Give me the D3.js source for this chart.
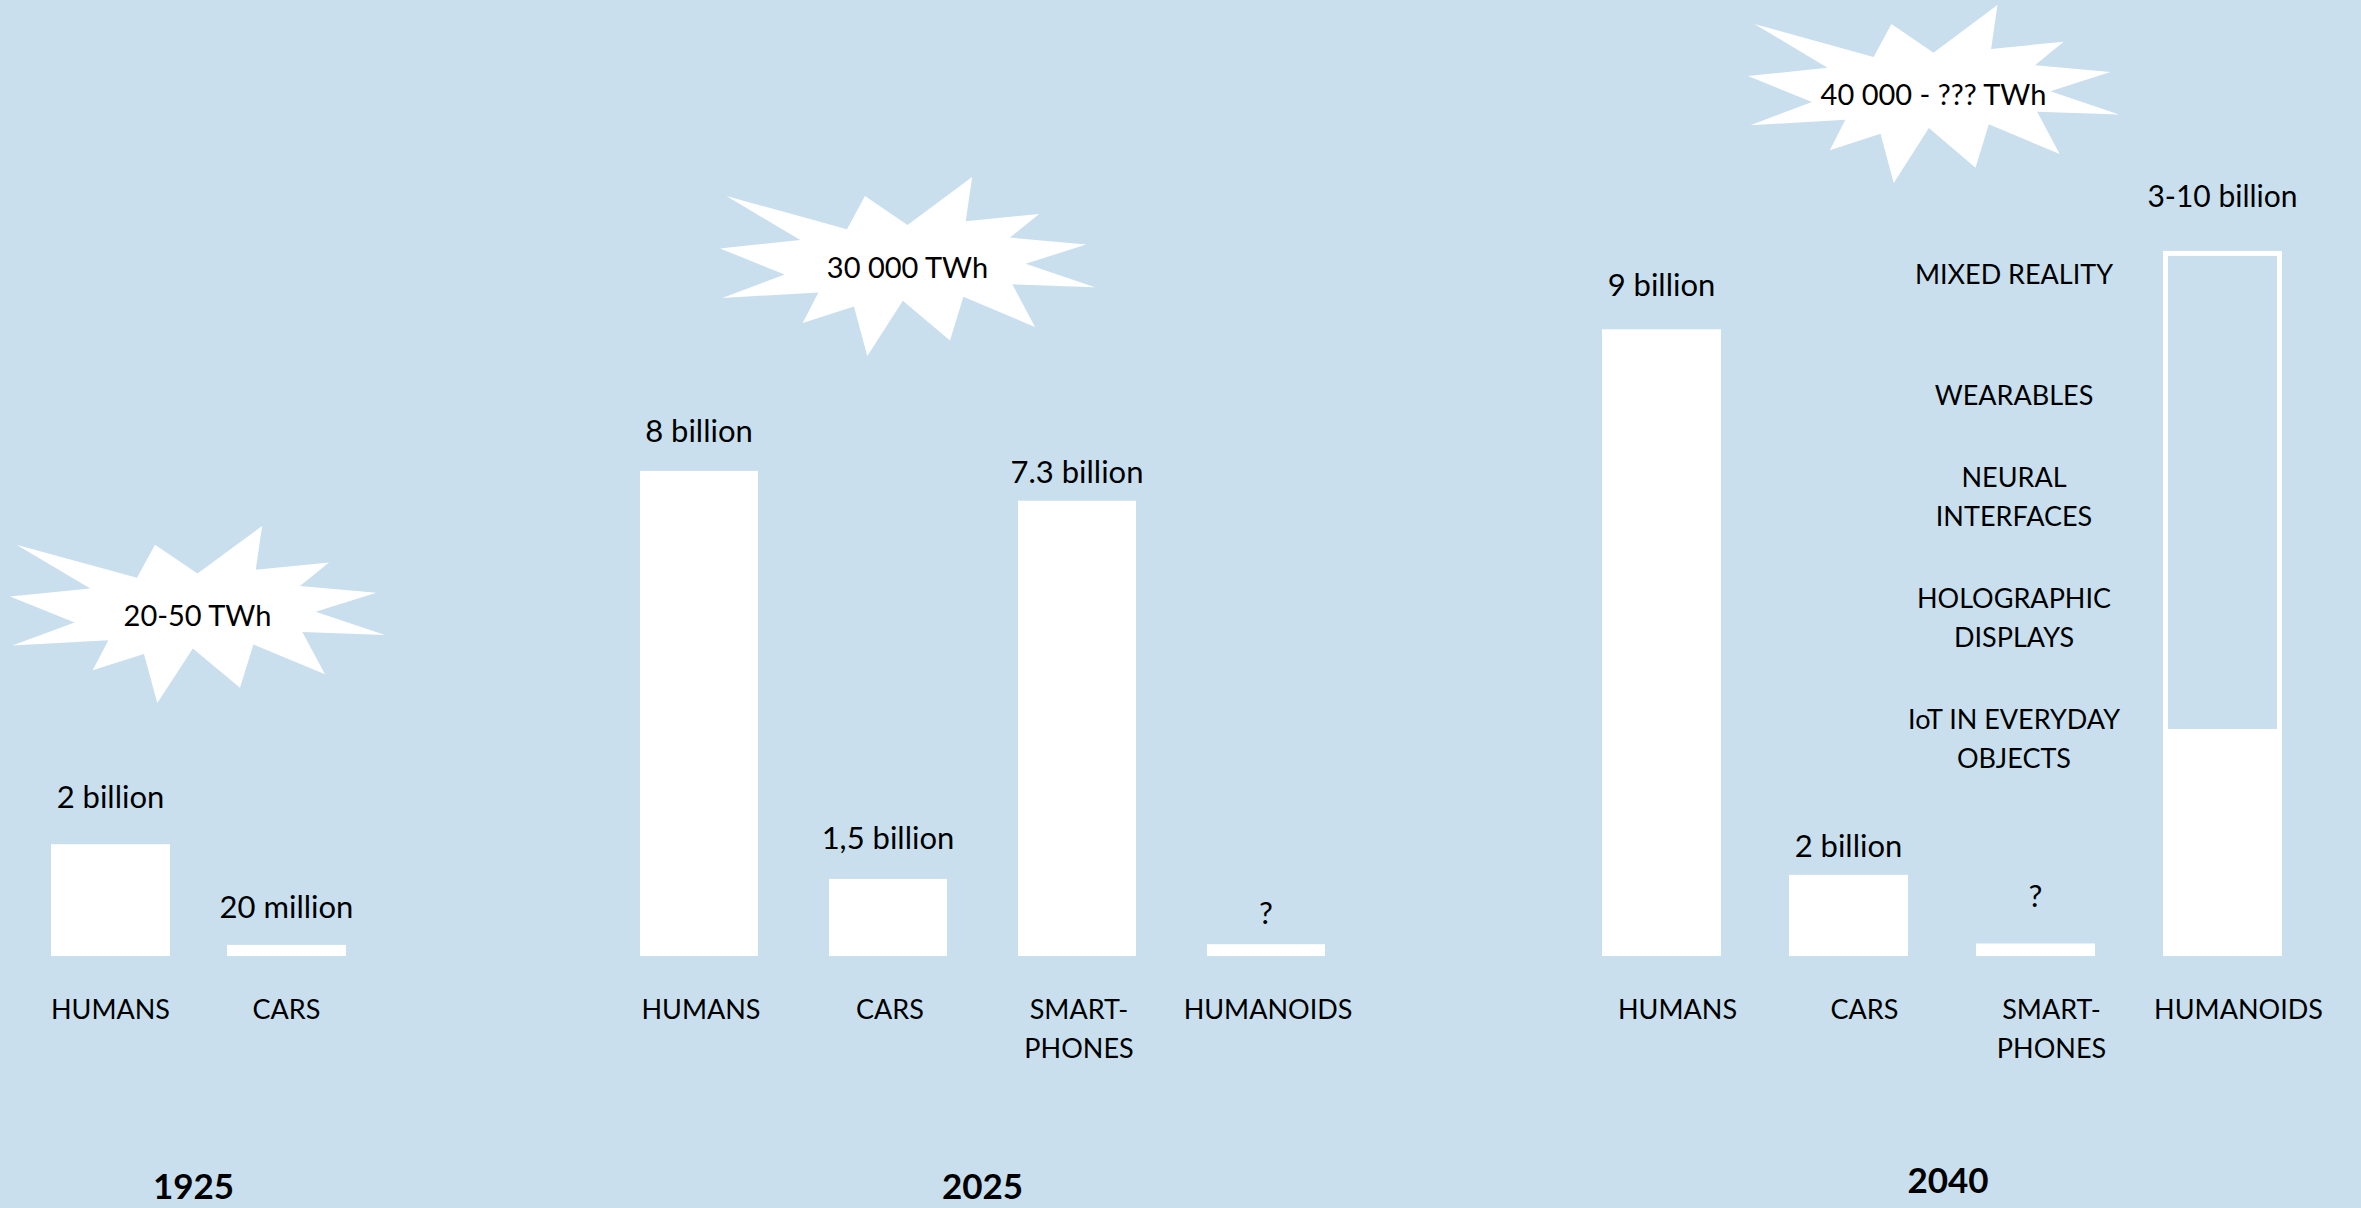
<!DOCTYPE html>
<html><head><meta charset="utf-8">
<script src="https://cdn.jsdelivr.net/npm/d3@7"></script>
<style>
html,body{margin:0;padding:0;background:#C9DFEE;}
svg{display:block}
</style>
</head><body>
<svg id="chart" width="2361" height="1208"></svg>
<script>
// ---------- data ----------
const years = ["1925", "2025", "2040"];
const energyLabels = ["20-50 TWh", "30 000 TWh", "40 000 - ??? TWh"];

const categories1925 = ["HUMANS", "CARS"];
const categories2025 = ["HUMANS", "CARS", "SMART-\nPHONES", "HUMANOIDS"];
const categories2040 = ["HUMANS", "CARS", "SMART-\nPHONES", "HUMANOIDS"];

// bar heights as drawn (billions)
const values1925 = [1.61, 0.16];
const values2025 = [6.99, 1.11, 6.56, 0.17];
const values2040 = [9.03, 1.17, 0.18, 3.27];
const humanoids2040Upper = 10.16;   // outlined upper range of the 2040 humanoids bar

const valueLabels1925 = ["2 billion", "20 million"];
const valueLabels2025 = ["8 billion", "1,5 billion", "7.3 billion", "?"];
const valueLabels2040 = ["9 billion", "2 billion", "?", "3-10 billion"];

const innovations2040 = ["MIXED REALITY", "WEARABLES", "NEURAL\nINTERFACES", "HOLOGRAPHIC\nDISPLAYS", "IoT IN EVERYDAY\nOBJECTS"];

// ---------- layout ----------
const W = 2361, H = 1208;
const svg = d3.select("#chart");
svg.append("rect").attr("width", W).attr("height", H).attr("fill", "#C9DFEE");

const y = d3.scaleLinear().domain([0, 10]).range([956, 262]);

const groups = [
  {year: years[0], energy: energyLabels[0], cats: categories1925, vals: values1925, labels: valueLabels1925,
   range: [51, 346], pad: 0.324, burst: [10, 526, 375, 177], yearY: 1199, yearDx: -5, catDx: 0, gaps: [36, 27]},
  {year: years[1], energy: energyLabels[1], cats: categories2025, vals: values2025, labels: valueLabels2025,
   range: [640, 1325], pad: 0.376, burst: [720, 177, 375, 179], yearY: 1199, yearDx: 0, catDx: 2, gaps: [29, 30, 18, 20]},
  {year: years[2], energy: energyLabels[2], cats: categories2040, vals: values2040, labels: valueLabels2040,
   range: [1602, 2282], pad: 0.3636, burst: [1748, 5, 371, 178], yearY: 1193, yearDx: 6, catDx: 16, gaps: [33, 18, 37, 44]}
];

const FONT = "Lato, 'Open Sans', 'Noto Sans', sans-serif";

// PowerPoint "Explosion 1" outline in a 21600 grid
const sealPts = [[10800,5800],[14522,0],[14155,5325],[18380,4457],[16702,7315],[21097,8137],[17607,10475],
  [21600,13290],[16837,12942],[18145,18095],[14020,14457],[13247,19737],[10532,14935],[8485,21600],
  [7715,15627],[4762,17617],[5667,13937],[135,14587],[3722,11775],[0,8615],[4627,7617],[370,2295],
  [7312,6320],[8352,2295]];

function multiline(sel, text, lineH) {
  const lines = text.split("\n");
  lines.forEach((ln, i) => {
    sel.append("tspan").attr("x", sel.attr("x")).attr("dy", i === 0 ? 0 : lineH).text(ln);
  });
}

groups.forEach((g, gi) => {
  const x = d3.scaleBand().domain(g.cats.map((c, i) => i)).range(g.range).paddingInner(g.pad).paddingOuter(0);
  const layer = svg.append("g");

  // starburst
  const [bx, by, bw, bh] = g.burst;
  const sx = d3.scaleLinear().domain([0, 21600]).range([bx, bx + bw]);
  const sy = d3.scaleLinear().domain([0, 21600]).range([by, by + bh]);
  layer.append("path")
    .attr("d", d3.line().x(p => sx(p[0])).y(p => sy(p[1]))(sealPts) + "Z")
    .attr("fill", "#ffffff");
  layer.append("text")
    .attr("x", bx + bw / 2).attr("y", by + bh / 2 + 11)
    .attr("text-anchor", "middle")
    .attr("font-family", FONT).attr("font-size", 29).attr("fill", "#000")
    .text(g.energy);

  // bars
  g.vals.forEach((v, i) => {
    if (gi === 2 && i === 3) {
      layer.append("rect")
        .attr("x", x(i) + 2.5).attr("y", y(humanoids2040Upper) + 2.5)
        .attr("width", x.bandwidth() - 5).attr("height", y(v) - y(humanoids2040Upper))
        .attr("fill", "none").attr("stroke", "#ffffff").attr("stroke-width", 5);
    }
    layer.append("rect")
      .attr("x", x(i)).attr("y", y(v))
      .attr("width", x.bandwidth()).attr("height", y(0) - y(v))
      .attr("fill", "#ffffff");
  });

  // value labels
  g.labels.forEach((t, i) => {
    const top = (gi === 2 && i === 3) ? y(humanoids2040Upper) : y(g.vals[i]);
    layer.append("text")
      .attr("x", x(i) + x.bandwidth() / 2).attr("y", top - g.gaps[i])
      .attr("text-anchor", "middle")
      .attr("font-family", FONT).attr("font-size", (gi === 2 && i === 3) ? 30 : 31).attr("fill", "#000")
      .text(t);
  });

  // category labels
  g.cats.forEach((c, i) => {
    const t = layer.append("text")
      .attr("x", x(i) + x.bandwidth() / 2 + g.catDx).attr("y", 1019)
      .attr("text-anchor", "middle")
      .attr("font-family", FONT).attr("font-size", 27).attr("fill", "#000");
    multiline(t, c, 39);
  });

  // year label
  layer.append("text")
    .attr("x", (g.range[0] + g.range[1]) / 2 + g.yearDx).attr("y", g.yearY)
    .attr("text-anchor", "middle")
    .attr("font-family", FONT).attr("font-weight", 700).attr("font-size", 35).attr("fill", "#000")
    .text(g.year);
});

// 2040 innovation list
const iy = d3.scalePoint().domain(innovations2040).range([284, 768]);
innovations2040.forEach(item => {
  const n = item.split("\n").length;
  const t = svg.append("text")
    .attr("x", 2014).attr("y", iy(item) - 39 * (n - 1))
    .attr("text-anchor", "middle")
    .attr("font-family", FONT).attr("font-size", 27).attr("fill", "#000");
  multiline(t, item, 39);
});
</script>
</body></html>
